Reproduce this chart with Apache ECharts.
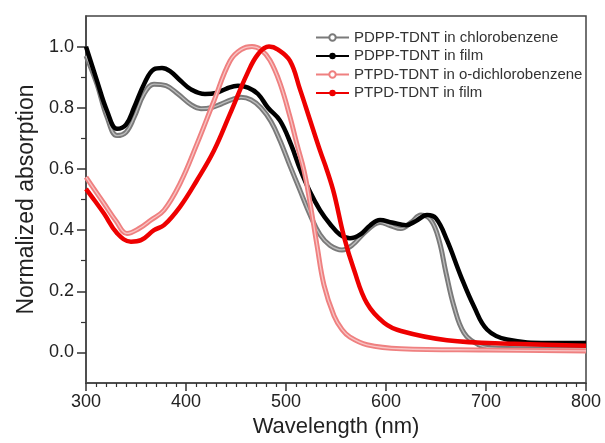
<!DOCTYPE html>
<html>
<head>
<meta charset="utf-8">
<script src="https://cdn.jsdelivr.net/npm/echarts@6/dist/echarts.min.js"></script>
<style>
html,body{margin:0;padding:0;background:#fff;}
#main{width:605px;height:443px;}
</style>
</head>
<body>
<div id="main"></div>
<script>
// PDPP-TDNT in chlorobenzene
var wlPdppSol = [300,311,321,331,340,348,358,368,380,392,405,415,425,435,445,455,465,475,485,494,504,514,524,534,544,556,566,578,588,594,604,615,625,635,645,653,660,668,678,692,705,740,800];
var absPdppSol = [0.97,0.877,0.77,0.709,0.72,0.768,0.845,0.877,0.872,0.845,0.81,0.797,0.80,0.812,0.826,0.834,0.826,0.80,0.755,0.693,0.61,0.53,0.45,0.385,0.35,0.335,0.35,0.39,0.418,0.425,0.415,0.405,0.425,0.449,0.432,0.367,0.26,0.15,0.064,0.026,0.015,0.012,0.012];
// PDPP-TDNT in film
var wlPdppFilm = [300,311,321,331,340,348,358,368,376,384,394,405,419,430,440,452,462,472,482,494,505,514,524,534,544,554,564,574,584,594,606,620,630,641,650,661,675,688,701,721,762,800];
var absPdppFilm = [1.0,0.888,0.79,0.731,0.745,0.80,0.877,0.926,0.93,0.92,0.89,0.86,0.845,0.848,0.862,0.872,0.866,0.845,0.80,0.758,0.68,0.6,0.525,0.465,0.42,0.385,0.373,0.385,0.415,0.433,0.425,0.416,0.43,0.449,0.438,0.367,0.248,0.15,0.075,0.042,0.031,0.031];
// PTPD-TDNT in o-dichlorobenzene
var wlPtpdSol = [300,309,318,330,341,353,365,378,394,411,428,444,455,466,475,484,494,504,511,518,524,531,538,548,556,564,581,615,700,800];
var absPtpdSol = [0.573,0.53,0.487,0.43,0.389,0.405,0.433,0.465,0.552,0.682,0.823,0.953,0.99,1.0,0.99,0.955,0.88,0.77,0.68,0.595,0.49,0.35,0.22,0.12,0.075,0.05,0.025,0.012,0.008,0.005];
// PTPD-TDNT in film
var wlPtpdFilm = [300,309,318,331,345,355,368,378,394,411,428,444,461,472,483,492,504,514,524,534,541,548,558,568,581,598,615,661,728,800];
var absPtpdFilm = [0.535,0.495,0.454,0.39,0.362,0.367,0.40,0.416,0.476,0.563,0.66,0.78,0.91,0.975,1.0,0.99,0.953,0.86,0.76,0.66,0.595,0.52,0.378,0.27,0.16,0.097,0.07,0.04,0.028,0.022];

var seriesNames = ['PDPP-TDNT in chlorobenzene','PDPP-TDNT in film','PTPD-TDNT in o-dichlorobenzene','PTPD-TDNT in film'];
var yMajor = [0, 0.2, 0.4, 0.6, 0.8, 1.0];
var yMinor = [0.1, 0.3, 0.5, 0.7, 0.9];

function pairs(xs, ys) {
  return xs.map(function (x, i) { return [x, ys[i]]; });
}

var font = 'Liberation Sans, Arial, sans-serif';
var chart = echarts.init(document.getElementById('main'));

function mainSeries(name, xs, ys, color, symbol, width) {
  return {
    name: name, type: 'line', data: pairs(xs, ys), smooth: 0.4,
    symbol: symbol, symbolSize: 5, showSymbol: false,
    itemStyle: { color: color },
    lineStyle: { color: color, width: width }
  };
}
function innerSeries(xs, ys, color) {
  // light core so the open-circle curves look hollow
  return {
    type: 'line', data: pairs(xs, ys), smooth: 0.4, showSymbol: false, silent: true,
    lineStyle: { color: color, width: 1.3 }, tooltip: { show: false }
  };
}

chart.setOption({
  animation: false,
  textStyle: { fontFamily: font },
  grid: { left: 86, right: 19, top: 16, bottom: 60, show: true, borderColor: '#444', borderWidth: 1.5 },
  legend: {
    data: seriesNames,
    orient: 'vertical', left: 315, top: 30, itemGap: 3.5, padding: 0,
    itemWidth: 33, itemHeight: 8,
    textStyle: { fontSize: 15, color: '#333', fontFamily: font }
  },
  xAxis: {
    type: 'value', min: 300, max: 800, interval: 100,
    name: 'Wavelength (nm)', nameLocation: 'middle', nameGap: 32,
    nameTextStyle: { fontSize: 22, color: '#222', fontFamily: font },
    axisLine: { show: true, onZero: false, lineStyle: { color: '#444', width: 1.5 } },
    axisTick: { show: true, length: 8, lineStyle: { color: '#333', width: 1.5 } },
    minorTick: { show: true, splitNumber: 10, length: 4, lineStyle: { color: '#333', width: 1.2 } },
    axisLabel: { fontSize: 18, color: '#222', margin: 10 },
    splitLine: { show: false }
  },
  yAxis: [{
    type: 'value', min: -0.1, max: 1.1, interval: 0.1,
    name: 'Normalized absorption', nameLocation: 'middle', nameGap: 48,
    nameTextStyle: { fontSize: 23, color: '#222', fontFamily: font },
    axisLine: { show: true, lineStyle: { color: '#444', width: 1.5 } },
    axisTick: { show: true, customValues: yMajor, length: 9, lineStyle: { color: '#333', width: 1.5 } },
    axisLabel: { customValues: yMajor, fontSize: 18, color: '#222', margin: 12,
      formatter: function (v) { return v.toFixed(1); } },
    splitLine: { show: false }
  }, {
    type: 'value', min: -0.1, max: 1.1, interval: 0.1, position: 'left',
    axisLine: { show: false },
    axisTick: { show: true, customValues: yMinor, length: 5, lineStyle: { color: '#333', width: 1.2 } },
    axisLabel: { show: false },
    splitLine: { show: false }
  }],
  series: [
    mainSeries(seriesNames[0], wlPdppSol, absPdppSol, '#7a7a7a', 'emptyCircle', 5),
    innerSeries(wlPdppSol, absPdppSol, '#bdbdbd'),
    mainSeries(seriesNames[1], wlPdppFilm, absPdppFilm, '#000000', 'circle', 4.5),
    mainSeries(seriesNames[2], wlPtpdSol, absPtpdSol, '#ef8080', 'emptyCircle', 5),
    innerSeries(wlPtpdSol, absPtpdSol, '#f8c4c4'),
    mainSeries(seriesNames[3], wlPtpdFilm, absPtpdFilm, '#ee0000', 'circle', 4.5)
  ]
});
</script>
</body>
</html>
